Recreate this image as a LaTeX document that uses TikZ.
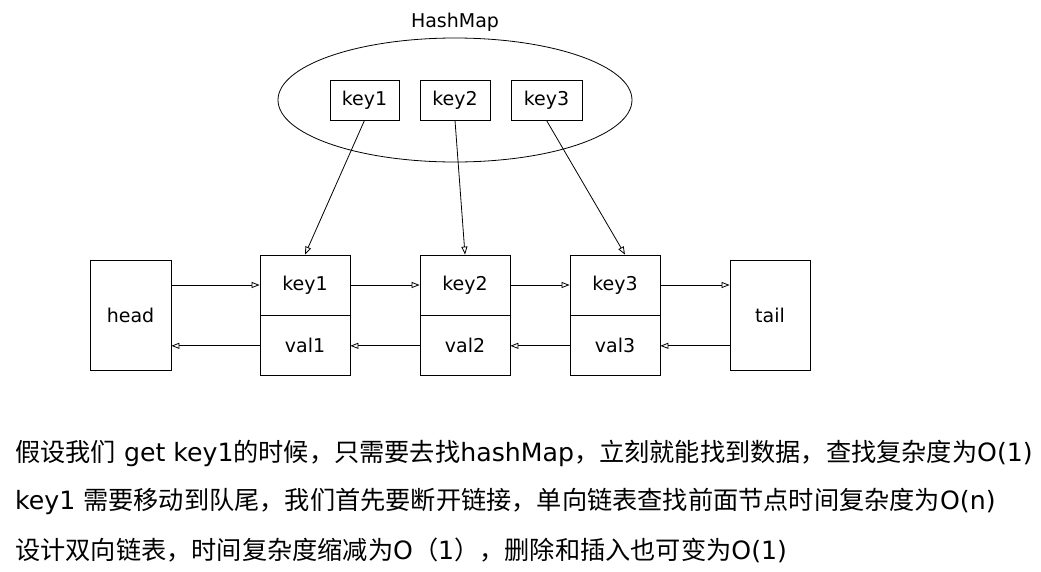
\documentclass[tikz,border=0pt]{standalone}
\usepackage{fontspec}
\setmainfont{DejaVu Sans}
\newfontfamily\zhfont{Noto Sans CJK SC}
\newcommand{\zh}[1]{{\zhfont #1}}
\usetikzlibrary{positioning, shapes.geometric, arrows.meta}

\tikzset{
  box/.style={draw, line width=0.8pt, font=\fontsize{19}{23}\selectfont},
  cell/.style={box, minimum width=90, minimum height=60},
  arr/.style={-{Triangle[open, length=8pt, width=6pt]}, line width=0.8pt},
  note/.style={anchor=west, inner sep=0pt, font=\fontsize{25.2}{29}\selectfont}
}

\begin{document}
\begin{tikzpicture}[x=1pt, y=-1pt]
          \useasboundingbox (0,0) rectangle (1041,571);

          % hashmap
          \node[draw, ellipse, line width=0.8pt, minimum width=354, minimum height=124] (hm) at (455,100) {};
          \node[font=\fontsize{19}{23}\selectfont] (hmlabel) at (455,22) {HashMap};

          \node[box, minimum width=69, minimum height=40] (hk1) at (364.5,100) {key1};
          \node[box, minimum width=70, minimum height=40] (hk2) at (455,100)   {key2};
          \node[box, minimum width=71, minimum height=40] (hk3) at (546.5,100) {key3};

          % linked list
          \node[box, minimum width=81, minimum height=110] (head) at (130.5,315) {head};

          \node[cell] (k1) at (305,285) {key1};
          \node[cell, below=0pt of k1] (v1) {val1};

          \node[cell] (k2) at (465,285) {key2};
          \node[cell, below=0pt of k2] (v2) {val2};

          \node[cell] (k3) at (615,285) {key3};
          \node[cell, below=0pt of k3] (v3) {val3};

          \node[box, minimum width=80, minimum height=110] (tail) at (770,315) {tail};

          % next
          \draw[arr] (head.east |- k1.west) -- (k1.west);
          \draw[arr] (k1.east) -- (k2.west);
          \draw[arr] (k2.east) -- (k3.west);
          \draw[arr] (k3.east) -- (tail.west |- k3.east);

          % prev
          \draw[arr] (v1.west) -- (head.east |- v1.west);
          \draw[arr] (v2.west) -- (v1.east);
          \draw[arr] (v3.west) -- (v2.east);
          \draw[arr] (tail.west |- v3.east) -- (v3.east);

          % lookup
          \draw[arr] (hk1.south) -- (k1.north);
          \draw[arr] (hk2.south) -- (k2.north);
          \draw[arr] (hk3.south) -- ([xshift=10pt]k3.north);

          % notes
          \node[note] (line1) at (15,453) {\zh{假设我们} get key1\zh{的时候，只需要去找}hashMap\zh{，立刻就能找到数据，查找复杂度为}O(1)};
          \node[note] (line2) at (15,501) {key1 \zh{需要移动到队尾，我们首先要断开链接，单向链表查找前面节点时间复杂度为}O(n)};
          \node[note] (line3) at (15,550) {\zh{设计双向链表，时间复杂度缩减为}O\zh{（}1\zh{），删除和插入也可变为}O(1)};
        \end{tikzpicture}
\end{document}
